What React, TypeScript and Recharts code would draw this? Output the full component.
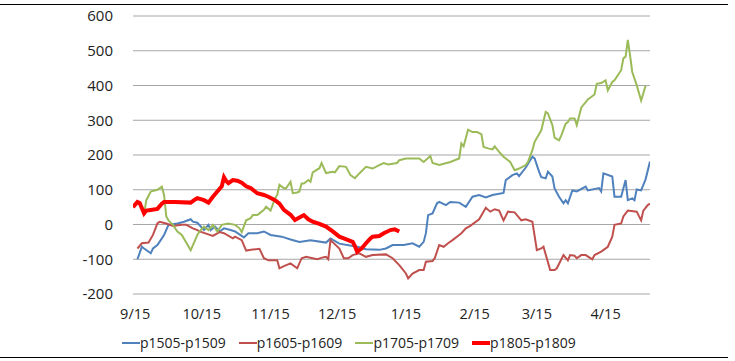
import { LineChart, Line, XAxis, YAxis, CartesianGrid } from 'recharts'

// x = days after 9/15
const tickDays = [0, 30, 61, 91, 122, 153, 181, 212]
const tickLabels = ['9/15', '10/15', '11/15', '12/15', '1/15', '2/15', '3/15', '4/15']
const yTicks = [-200, -100, 0, 100, 200, 300, 400, 500, 600]

const days1505 = [1, 3, 4, 7, 8, 10, 12, 13, 15, 19, 22, 25, 26, 28, 31, 33, 34, 36, 38, 40, 43, 45, 49, 51, 55, 58, 61, 66, 70, 74, 79, 86, 88, 92, 100, 104, 110, 113, 116, 121, 125, 128, 130, 131, 132, 134, 136, 137, 140, 142, 146, 149, 152, 155, 158, 161, 166, 167, 170, 172, 173, 176, 179, 180, 182, 183, 185, 186, 188, 189, 191, 193, 194, 195, 197, 199, 203, 204, 209, 210, 211, 215, 216, 219, 221, 222, 224, 225, 226, 228, 230, 232]
const vals1505 = [-100, -64, -69, -83, -69, -59, -40, -30, -1, 3, 8, 15, 8, 5, -16, -1, -16, -6, -20, -11, -16, -20, -37, -25, -25, -20, -30, -35, -43, -50, -45, -52, -40, -55, -64, -71, -73, -69, -59, -59, -54, -64, -50, -25, 27, 32, 61, 65, 56, 65, 63, 51, 80, 85, 78, 85, 91, 128, 142, 147, 139, 164, 195, 190, 152, 136, 133, 152, 138, 104, 80, 61, 70, 61, 98, 95, 109, 98, 105, 95, 147, 138, 80, 80, 128, 70, 75, 70, 101, 98, 130, 181]

const days1605 = [1, 3, 6, 8, 10, 11, 14, 17, 21, 23, 26, 28, 29, 35, 38, 40, 44, 45, 48, 50, 53, 56, 58, 60, 64, 65, 67, 70, 73, 75, 77, 82, 85, 86, 87, 88, 92, 94, 96, 98, 101, 104, 107, 113, 116, 119, 122, 123, 125, 128, 130, 131, 134, 135, 137, 139, 141, 143, 146, 147, 149, 151, 155, 158, 160, 162, 164, 166, 168, 171, 174, 176, 179, 181, 183, 184, 187, 189, 190, 193, 195, 196, 198, 199, 201, 203, 206, 207, 210, 213, 215, 216, 219, 220, 222, 226, 228, 229, 231, 232]
const vals1605 = [-69, -54, -52, -30, 3, 8, 3, -4, -1, -1, -11, -16, -20, -33, -22, -25, -40, -35, -45, -75, -72, -70, -97, -103, -103, -126, -120, -112, -126, -97, -93, -100, -94, -93, -100, -45, -69, -97, -97, -88, -83, -93, -88, -86, -97, -117, -141, -155, -141, -131, -131, -107, -105, -97, -59, -64, -54, -45, -30, -25, -11, -4, 15, 48, 37, 44, 40, 12, 37, 35, 12, 15, 8, -74, -69, -64, -131, -131, -126, -88, -103, -88, -90, -97, -88, -88, -100, -88, -78, -64, -35, -1, 3, 23, 40, 37, 12, 40, 56, 60]

const days1705 = [4, 5, 7, 10, 12, 13, 14, 15, 17, 19, 21, 25, 27, 28, 29, 31, 33, 35, 37, 39, 42, 45, 47, 48, 50, 52, 53, 55, 56, 58, 59, 61, 63, 64, 65, 67, 68, 70, 71, 73, 74, 75, 76, 78, 79, 80, 83, 84, 86, 89, 90, 92, 95, 97, 99, 101, 104, 107, 110, 112, 114, 118, 119, 122, 128, 130, 133, 134, 137, 142, 146, 147, 148, 150, 152, 154, 156, 157, 159, 161, 162, 164, 166, 168, 169, 171, 173, 176, 177, 179, 180, 183, 185, 186, 188, 189, 191, 192, 194, 195, 196, 198, 199, 201, 204, 207, 208, 210, 212, 213, 215, 216, 219, 220, 221, 222, 223, 224, 226, 228, 230]
const vals1705 = [30, 70, 95, 100, 109, 85, 23, 12, -1, -20, -30, -74, -45, -30, -20, -6, -16, -1, -20, -1, 3, -1, -11, -22, 12, 18, 27, 27, 32, 42, 51, 40, 75, 85, 114, 104, 104, 123, 90, 92, 95, 118, 118, 128, 123, 150, 162, 177, 148, 152, 150, 168, 166, 142, 133, 147, 166, 161, 171, 177, 173, 177, 185, 190, 190, 180, 197, 177, 171, 180, 190, 233, 225, 273, 266, 266, 260, 223, 219, 216, 225, 209, 195, 185, 180, 156, 161, 171, 180, 214, 238, 271, 324, 320, 286, 250, 242, 256, 290, 295, 305, 305, 286, 336, 360, 374, 405, 407, 415, 386, 410, 415, 444, 478, 483, 531, 487, 439, 401, 357, 399]

const days1805 = [-1, 1, 2, 4, 5, 7, 10, 12, 13, 18, 25, 27, 28, 31, 33, 35, 37, 39, 40, 41, 42, 44, 46, 48, 50, 52, 55, 58, 60, 63, 65, 67, 70, 72, 74, 76, 78, 80, 83, 86, 89, 92, 94, 96, 98, 99, 100, 102, 104, 106, 107, 110, 112, 115, 117, 119]
const vals1805 = [50, 65, 62, 32, 40, 42, 45, 60, 65, 65, 63, 72, 76, 70, 63, 80, 95, 110, 136, 125, 119, 128, 126, 120, 110, 105, 90, 85, 80, 70, 60, 42, 28, 13, 20, 27, 15, 8, 2, -6, -20, -35, -40, -45, -50, -62, -78, -69, -54, -40, -35, -33, -25, -16, -14, -20]

const toRows = (days: number[], vals: number[]) => days.map((d, i) => ({ d, v: vals[i] }))

const SERIES = [
  { name: 'p1505-p1509', color: '#4f81bd', width: 2, data: toRows(days1505, vals1505) },
  { name: 'p1605-p1609', color: '#c0504d', width: 2, data: toRows(days1605, vals1605) },
  { name: 'p1705-p1709', color: '#9bbb59', width: 2, data: toRows(days1705, vals1705) },
  { name: 'p1805-p1809', color: '#ff0000', width: 4, data: toRows(days1805, vals1805) },
]

const FONT = '"Open Sans", "Noto Sans", sans-serif'

function Leyenda() {
  return (
    <div style={{
      position: 'absolute', top: 334, left: 122, display: 'flex', gap: 13,
      fontFamily: FONT, fontSize: 14, color: '#222', lineHeight: '18px',
    }}>
      {SERIES.map(s => (
        <div key={s.name} style={{ display: 'flex', alignItems: 'center' }}>
          <svg width={18} height={18}>
            <line x1={0} y1={9} x2={18} y2={9} stroke={s.color} strokeWidth={s.width === 4 ? 4 : 2} />
          </svg>
          <span>{s.name}</span>
        </div>
      ))}
    </div>
  )
}

export default function App() {
  return (
    <div style={{ position: 'absolute', left: 0, top: 0, width: 735, height: 361, background: '#fff' }}>
      <div style={{ position: 'absolute', left: 0, top: 4, width: 728, height: 352, borderTop: '1px solid #000', borderBottom: '1px solid #000' }} />
      <LineChart width={735} height={361} margin={{ top: 16, right: 85, bottom: 37, left: 0 }}>
        <CartesianGrid vertical={false} stroke="#a6a6a6" strokeWidth={1} />
        <XAxis
          type="number"
          dataKey="d"
          domain={[-1, 232]}
          ticks={tickDays}
          tickFormatter={(v: number) => tickLabels[tickDays.indexOf(v)] ?? ''}
          interval={0}
          allowDataOverflow
          axisLine={false}
          tickLine={false}
          tickSize={0}
          tickMargin={15}
          height={30}
          tick={{ fontSize: 14.5, fontFamily: FONT, fill: '#222' }}
        />
        <YAxis
          type="number"
          domain={[-200, 600]}
          ticks={yTicks}
          interval={0}
          width={133}
          axisLine={false}
          tickLine={false}
          tickSize={0}
          tickMargin={20}
          tick={{ fontSize: 15, fontFamily: FONT, fill: '#222' }}
        />
        {SERIES.map(s => (
          <Line
            key={s.name}
            data={s.data}
            dataKey="v"
            name={s.name}
            type="linear"
            stroke={s.color}
            strokeWidth={s.width}
            dot={false}
            activeDot={false}
            isAnimationActive={false}
          />
        ))}
      </LineChart>
      <Leyenda />
    </div>
  )
}
